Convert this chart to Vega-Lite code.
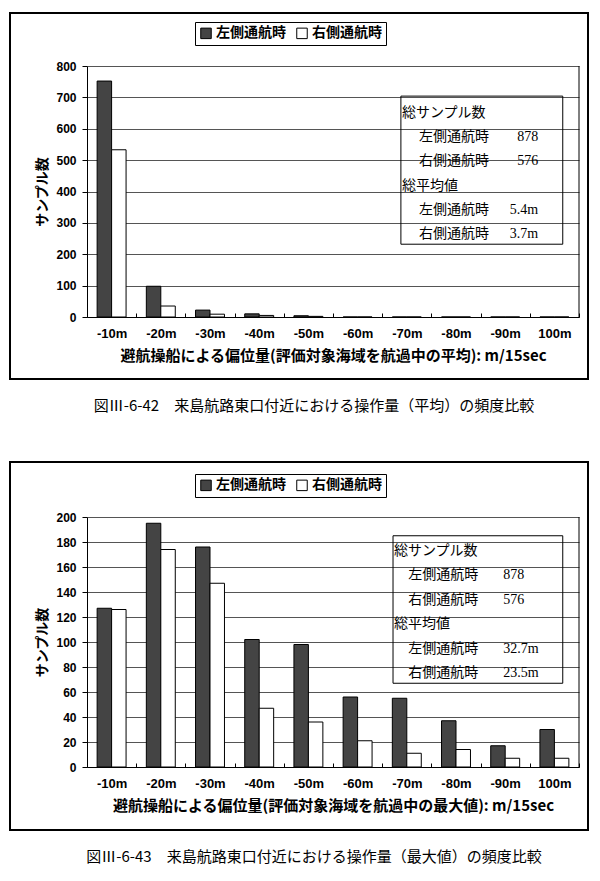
{
  "$schema": "https://vega.github.io/schema/vega-lite/v6.json",
  "padding": {"left": 9, "top": 12, "right": 0, "bottom": 0},
  "background": "white",
  "spacing": 46,
  "datasets": {
    "avg": [
      {"range": "-10m", "side": "左側通航時", "count": 752},
      {"range": "-20m", "side": "左側通航時", "count": 98},
      {"range": "-30m", "side": "左側通航時", "count": 22},
      {"range": "-40m", "side": "左側通航時", "count": 10},
      {"range": "-50m", "side": "左側通航時", "count": 4},
      {"range": "-60m", "side": "左側通航時", "count": 0},
      {"range": "-70m", "side": "左側通航時", "count": 0},
      {"range": "-80m", "side": "左側通航時", "count": 0},
      {"range": "-90m", "side": "左側通航時", "count": 0},
      {"range": "100m", "side": "左側通航時", "count": 0},
      {"range": "-10m", "side": "右側通航時", "count": 533},
      {"range": "-20m", "side": "右側通航時", "count": 35},
      {"range": "-30m", "side": "右側通航時", "count": 9},
      {"range": "-40m", "side": "右側通航時", "count": 5},
      {"range": "-50m", "side": "右側通航時", "count": 2},
      {"range": "-60m", "side": "右側通航時", "count": 0},
      {"range": "-70m", "side": "右側通航時", "count": 0},
      {"range": "-80m", "side": "右側通航時", "count": 0},
      {"range": "-90m", "side": "右側通航時", "count": 0},
      {"range": "100m", "side": "右側通航時", "count": 0}
    ],
    "max": [
      {"range": "-10m", "side": "左側通航時", "count": 127},
      {"range": "-20m", "side": "左側通航時", "count": 195},
      {"range": "-30m", "side": "左側通航時", "count": 176},
      {"range": "-40m", "side": "左側通航時", "count": 102},
      {"range": "-50m", "side": "左側通航時", "count": 98},
      {"range": "-60m", "side": "左側通航時", "count": 56},
      {"range": "-70m", "side": "左側通航時", "count": 55},
      {"range": "-80m", "side": "左側通航時", "count": 37},
      {"range": "-90m", "side": "左側通航時", "count": 17},
      {"range": "100m", "side": "左側通航時", "count": 30},
      {"range": "-10m", "side": "右側通航時", "count": 126},
      {"range": "-20m", "side": "右側通航時", "count": 174},
      {"range": "-30m", "side": "右側通航時", "count": 147},
      {"range": "-40m", "side": "右側通航時", "count": 47},
      {"range": "-50m", "side": "右側通航時", "count": 36},
      {"range": "-60m", "side": "右側通航時", "count": 21},
      {"range": "-70m", "side": "右側通航時", "count": 11},
      {"range": "-80m", "side": "右側通航時", "count": 14},
      {"range": "-90m", "side": "右側通航時", "count": 7},
      {"range": "100m", "side": "右側通航時", "count": 7}
    ],
    "avgTable": [
      {"row": 1, "head": "総サンプル数"},
      {"row": 2, "label": "左側通航時", "value": "878"},
      {"row": 3, "label": "右側通航時", "value": "576"},
      {"row": 4, "head": "総平均値"},
      {"row": 5, "label": "左側通航時", "value": "5.4m"},
      {"row": 6, "label": "右側通航時", "value": "3.7m"}
    ],
    "maxTable": [
      {"row": 1, "head": "総サンプル数"},
      {"row": 2, "label": "左側通航時", "value": "878"},
      {"row": 3, "label": "右側通航時", "value": "576"},
      {"row": 4, "head": "総平均値"},
      {"row": 5, "label": "左側通航時", "value": "32.7m"},
      {"row": 6, "label": "右側通航時", "value": "23.5m"}
    ]
  },
  "vconcat": [
    {
      "width": 578,
      "height": 366,
      "title": {"text": "図Ⅲ-6-42　来島航路東口付近における操作量（平均）の頻度比較", "orient": "bottom", "offset": 20, "dx": 15, "fontSize": 15, "fontWeight": "normal", "font": "Noto Sans CJK JP", "color": "black"},
      "layer": [
        {
          "data": {"name": "avg"},
          "mark": {"type": "bar", "stroke": "black", "strokeWidth": 1},
          "encoding": {
            "x": {"field": "range", "type": "nominal", "sort": null,
              "scale": {"domain": ["-10m","-20m","-30m","-40m","-50m","-60m","-70m","-80m","-90m","100m"], "range": [77, 569], "paddingInner": 0, "paddingOuter": 0},
              "axis": {"orient": "bottom", "offset": -62, "title": "避航操船による偏位量(評価対象海域を航過中の平均): m/15sec", "titleFontSize": 15, "labelAngle": 0, "tickBand": "extent", "tickSize": -4, "labelPadding": 14, "titlePadding": 8, "grid": false}},
            "xOffset": {"field": "side", "type": "nominal", "sort": null, "scale": {"domain": ["左側通航時","右側通航時"], "paddingInner": 0, "paddingOuter": 0.7}},
            "y": {"field": "count", "type": "quantitative",
              "scale": {"domain": [0, 800], "range": [304, 53], "nice": false},
              "axis": {"offset": -77, "values": [0,100,200,300,400,500,600,700,800], "grid": true, "title": "サンプル数", "tickSize": 5, "labelPadding": 6, "titlePadding": 6, "labelFontSize": 12}},
            "color": {"field": "side", "type": "nominal", "sort": null,
              "scale": {"domain": ["左側通航時","右側通航時"], "range": ["#444444", "#ffffff"]},
              "legend": {"orient": "none", "legendX": 185, "legendY": 9, "direction": "horizontal", "title": null, "strokeColor": "black", "fillColor": "white", "padding": 4, "symbolType": "square", "symbolSize": 110, "symbolStrokeColor": "black", "symbolStrokeWidth": 1, "labelFont": "Noto Sans CJK JP", "labelFontSize": 14, "labelFontWeight": "bold", "labelColor": "black", "columnPadding": 8, "labelOffset": 3}}
          }
        },
        {
          "data": {"values": [{}]},
          "mark": {"type": "rule", "color": "black", "strokeWidth": 1},
          "encoding": {
            "x": {"datum": 10, "type": "quantitative", "scale": {"domain": [0, 10], "range": [77, 569], "nice": false, "zero": false}, "axis": null},
            "y": {"datum": 0, "type": "quantitative", "scale": {"domain": [0, 800], "range": [304, 53], "nice": false}, "axis": null},
            "y2": {"datum": 800}
          }
        },
        {
          "data": {"values": [{}]},
          "mark": {"type": "rect", "fillOpacity": 0, "stroke": "black", "strokeWidth": 1},
          "encoding": {
            "x": {"datum": 6.38, "type": "quantitative", "scale": {"domain": [0, 10], "range": [77, 569], "nice": false, "zero": false}, "axis": null},
            "x2": {"datum": 9.67},
            "y": {"datum": 232, "type": "quantitative", "scale": {"domain": [0, 800], "range": [304, 53], "nice": false}, "axis": null},
            "y2": {"datum": 704}
          }
        },
        {
          "data": {"name": "avgTable"},
          "transform": [{"filter": "isValid(datum.head)"}],
          "mark": {"type": "text", "align": "left", "baseline": "middle", "font": "Noto Sans CJK JP", "fontSize": 14, "fill": "black"},
          "encoding": {
            "x": {"datum": 6.4, "type": "quantitative", "scale": {"domain": [0, 10], "range": [77, 569], "nice": false, "zero": false}, "axis": null},
            "y": {"field": "row", "type": "ordinal", "scale": {"type": "point", "domain": [1,2,3,4,5,6], "range": [100, 221], "padding": 0}, "axis": null},
            "text": {"field": "head"}
          }
        },
        {
          "data": {"name": "avgTable"},
          "transform": [{"filter": "isValid(datum.label)"}],
          "mark": {"type": "text", "align": "center", "baseline": "middle", "font": "Noto Sans CJK JP", "fontSize": 14, "fill": "black"},
          "encoding": {
            "x": {"datum": 7.46, "type": "quantitative", "scale": {"domain": [0, 10], "range": [77, 569], "nice": false, "zero": false}, "axis": null},
            "y": {"field": "row", "type": "ordinal", "scale": {"type": "point", "domain": [1,2,3,4,5,6], "range": [100, 221], "padding": 0}, "axis": null},
            "text": {"field": "label"}
          }
        },
        {
          "data": {"name": "avgTable"},
          "transform": [{"filter": "isValid(datum.value)"}],
          "mark": {"type": "text", "align": "right", "baseline": "middle", "font": "Liberation Serif", "fontSize": 14, "fill": "black"},
          "encoding": {
            "x": {"datum": 9.17, "type": "quantitative", "scale": {"domain": [0, 10], "range": [77, 569], "nice": false, "zero": false}, "axis": null},
            "y": {"field": "row", "type": "ordinal", "scale": {"type": "point", "domain": [1,2,3,4,5,6], "range": [100, 221], "padding": 0}, "axis": null},
            "text": {"field": "value"}
          }
        }
      ],
      "resolve": {"scale": {"x": "independent", "y": "independent"}, "axis": {"x": "independent", "y": "independent"}}
    },
    {
      "width": 578,
      "height": 368,
      "title": {"text": "図Ⅲ-6-43　来島航路東口付近における操作量（最大値）の頻度比較", "orient": "bottom", "offset": 20, "dx": 15, "fontSize": 15, "fontWeight": "normal", "font": "Noto Sans CJK JP", "color": "black"},
      "layer": [
        {
          "data": {"name": "max"},
          "mark": {"type": "bar", "stroke": "black", "strokeWidth": 1},
          "encoding": {
            "x": {"field": "range", "type": "nominal", "sort": null,
              "scale": {"domain": ["-10m","-20m","-30m","-40m","-50m","-60m","-70m","-80m","-90m","100m"], "range": [77, 569], "paddingInner": 0, "paddingOuter": 0},
              "axis": {"orient": "bottom", "offset": -63, "title": "避航操船による偏位量(評価対象海域を航過中の最大値): m/15sec", "titleFontSize": 15, "labelAngle": 0, "tickBand": "extent", "tickSize": -4, "labelPadding": 14, "titlePadding": 8, "grid": false}},
            "xOffset": {"field": "side", "type": "nominal", "sort": null, "scale": {"domain": ["左側通航時","右側通航時"], "paddingInner": 0, "paddingOuter": 0.7}},
            "y": {"field": "count", "type": "quantitative",
              "scale": {"domain": [0, 200], "range": [305, 55], "nice": false},
              "axis": {"offset": -77, "values": [0,20,40,60,80,100,120,140,160,180,200], "grid": true, "title": "サンプル数", "tickSize": 5, "labelPadding": 6, "titlePadding": 6, "labelFontSize": 12}},
            "color": {"field": "side", "type": "nominal", "sort": null,
              "scale": {"domain": ["左側通航時","右側通航時"], "range": ["#444444", "#ffffff"]},
              "legend": {"orient": "none", "legendX": 185, "legendY": 12, "direction": "horizontal", "title": null, "strokeColor": "black", "fillColor": "white", "padding": 4, "symbolType": "square", "symbolSize": 110, "symbolStrokeColor": "black", "symbolStrokeWidth": 1, "labelFont": "Noto Sans CJK JP", "labelFontSize": 14, "labelFontWeight": "bold", "labelColor": "black", "columnPadding": 8, "labelOffset": 3}}
          }
        },
        {
          "data": {"values": [{}]},
          "mark": {"type": "rule", "color": "black", "strokeWidth": 1},
          "encoding": {
            "x": {"datum": 10, "type": "quantitative", "scale": {"domain": [0, 10], "range": [77, 569], "nice": false, "zero": false}, "axis": null},
            "y": {"datum": 0, "type": "quantitative", "scale": {"domain": [0, 200], "range": [305, 55], "nice": false}, "axis": null},
            "y2": {"datum": 200}
          }
        },
        {
          "data": {"values": [{}]},
          "mark": {"type": "rect", "fillOpacity": 0, "stroke": "black", "strokeWidth": 1},
          "encoding": {
            "x": {"datum": 6.22, "type": "quantitative", "scale": {"domain": [0, 10], "range": [77, 569], "nice": false, "zero": false}, "axis": null},
            "x2": {"datum": 9.67},
            "y": {"datum": 67, "type": "quantitative", "scale": {"domain": [0, 200], "range": [305, 55], "nice": false}, "axis": null},
            "y2": {"datum": 185}
          }
        },
        {
          "data": {"name": "maxTable"},
          "transform": [{"filter": "isValid(datum.head)"}],
          "mark": {"type": "text", "align": "left", "baseline": "middle", "font": "Noto Sans CJK JP", "fontSize": 14, "fill": "black"},
          "encoding": {
            "x": {"datum": 6.24, "type": "quantitative", "scale": {"domain": [0, 10], "range": [77, 569], "nice": false, "zero": false}, "axis": null},
            "y": {"field": "row", "type": "ordinal", "scale": {"type": "point", "domain": [1,2,3,4,5,6], "range": [89, 211], "padding": 0}, "axis": null},
            "text": {"field": "head"}
          }
        },
        {
          "data": {"name": "maxTable"},
          "transform": [{"filter": "isValid(datum.label)"}],
          "mark": {"type": "text", "align": "center", "baseline": "middle", "font": "Noto Sans CJK JP", "fontSize": 14, "fill": "black"},
          "encoding": {
            "x": {"datum": 7.24, "type": "quantitative", "scale": {"domain": [0, 10], "range": [77, 569], "nice": false, "zero": false}, "axis": null},
            "y": {"field": "row", "type": "ordinal", "scale": {"type": "point", "domain": [1,2,3,4,5,6], "range": [89, 211], "padding": 0}, "axis": null},
            "text": {"field": "label"}
          }
        },
        {
          "data": {"name": "maxTable"},
          "transform": [{"filter": "isValid(datum.value)"}],
          "mark": {"type": "text", "align": "left", "baseline": "middle", "font": "Liberation Serif", "fontSize": 14, "fill": "black"},
          "encoding": {
            "x": {"datum": 8.46, "type": "quantitative", "scale": {"domain": [0, 10], "range": [77, 569], "nice": false, "zero": false}, "axis": null},
            "y": {"field": "row", "type": "ordinal", "scale": {"type": "point", "domain": [1,2,3,4,5,6], "range": [89, 211], "padding": 0}, "axis": null},
            "text": {"field": "value"}
          }
        }
      ],
      "resolve": {"scale": {"x": "independent", "y": "independent"}, "axis": {"x": "independent", "y": "independent"}}
    }
  ],
  "resolve": {"scale": {"color": "independent"}, "legend": {"color": "independent"}},
  "config": {
    "view": {"stroke": "black", "strokeWidth": 2},
    "axis": {"domainColor": "black", "tickColor": "black", "labelColor": "black", "titleColor": "black", "gridColor": "#555555", "gridWidth": 1, "domainWidth": 1, "labelFont": "Liberation Sans", "labelFontWeight": "bold", "labelFontSize": 13, "titleFont": "Noto Sans CJK JP", "titleFontWeight": "bold", "titleFontSize": 14}
  }
}
